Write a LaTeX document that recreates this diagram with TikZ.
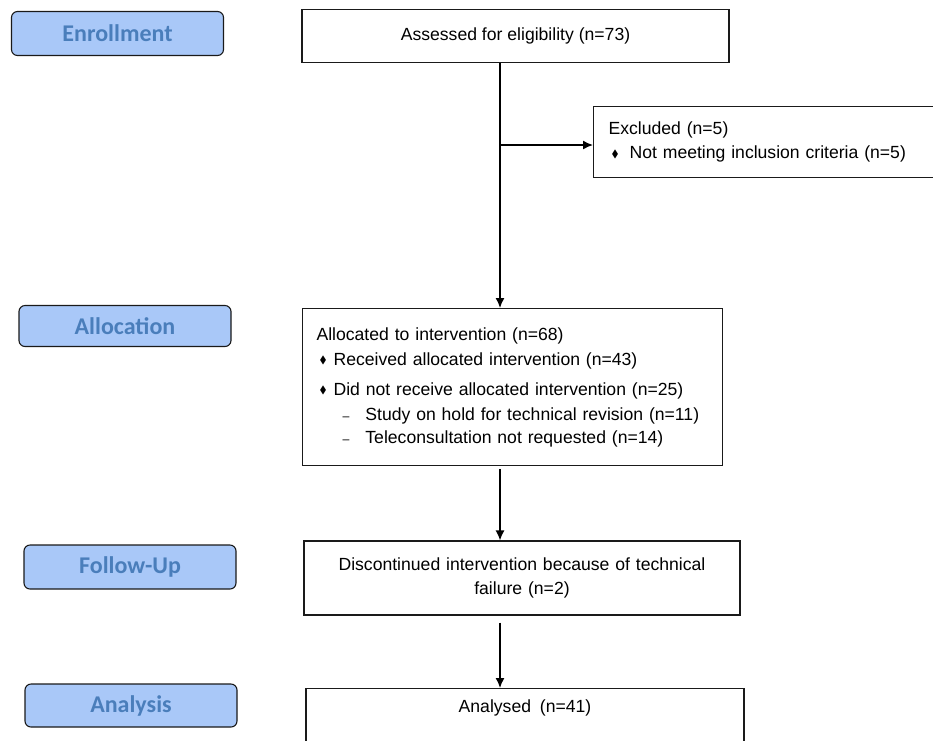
\documentclass[tikz,border=0pt]{standalone}
\usepackage{amsmath,amssymb}
\usepackage{fontspec}
\setmainfont{Liberation Sans}
\newfontfamily\stagefont{Carlito}
\usepackage{tikz}
\usetikzlibrary{arrows.meta,positioning,calc}
\definecolor{stagefill}{HTML}{A9C8F8}
\definecolor{stagetext}{HTML}{4A7EBB}
\definecolor{boxline}{HTML}{1A1A1A}
\newcommand{\bul}[1][7pt]{\hspace{3pt}\raisebox{1.5pt}{\scalebox{0.6}{$\blacklozenge$}}\hspace{#1}}
\newcommand{\subdash}{\hspace{26pt}\scalebox{0.7}{--}\hspace{16pt}}
\tikzset{
  stagelabel/.style={draw=boxline,line width=1.1pt,rounded corners=6pt,fill=stagefill,
    minimum width=212pt,minimum height=44pt,font=\stagefont\bfseries\fontsize{24}{28}\selectfont,
    text=stagetext},
  flowbox/.style={draw=boxline,line width=1.1pt,fill=white,
    font=\fontsize{17.6}{25}\selectfont},
  flowarrow/.style={-{Latex[length=10pt,width=9pt]},line width=1.5pt,draw=black}
}
\begin{document}
\begin{tikzpicture}[x=1pt,y=-1pt]
\useasboundingbox (0,0) rectangle (933,740);
\clip (0,0) rectangle (933,740);
\node[stagelabel] (enroll) at (117.5,33.5) {Enrollment};
\node[stagelabel,minimum height=41pt] (alloclbl) at (125,326) {Allocation};
\node[stagelabel] (followlbl) at (130,567) {Follow-Up};
\node[stagelabel,minimum height=43pt] (analysislbl) at (131,705.5) {Analysis};
\node[flowbox,minimum width=427pt,minimum height=53pt] (assessed) at (515.5,36)
  {Assessed for eligibility (n=73)};
\node[flowbox,anchor=west,minimum height=71pt,inner xsep=15pt,text width=330pt,align=left]
  (excluded) at (593,142)
  {Excluded (n=5)\\[-1pt] \bul[11pt]Not meeting inclusion criteria (n=5)};
\node[flowbox,anchor=north west,minimum width=420pt,minimum height=157pt,inner xsep=14pt,
  text width=392pt,align=left]
  (alloc) at (302,308)
  {Allocated to intervention (n=68)\\
   \bul Received allocated intervention (n=43)\\[5pt]
   \bul Did not receive allocated intervention (n=25)\\
   \subdash Study on hold for technical revision (n=11)\\[-2pt]
   \subdash Teleconsultation not requested (n=14)};
\node[flowbox,minimum width=436pt,minimum height=74pt,text width=420pt,align=center]
  (follow) at (522,578)
  {Discontinued intervention because of technical\\[-1pt]failure (n=2)};
\node[flowbox,anchor=north,minimum width=438pt,text height=21pt,text depth=40pt]
  (analysed) at (525,688) {Analysed\enspace(n=41)};
\coordinate (spine) at (500,0);
\coordinate (branch) at (500,145);
\draw[flowarrow] (assessed.south -| spine) -- (alloc.north -| spine);
\draw[flowarrow] (branch) -- (branch -| excluded.west);
\draw[flowarrow,shorten <=3pt] (alloc.south -| spine) -- (follow.north -| spine);
\draw[flowarrow,shorten <=7pt] (follow.south -| spine) -- (analysed.north -| spine);
\end{tikzpicture}
\end{document}
